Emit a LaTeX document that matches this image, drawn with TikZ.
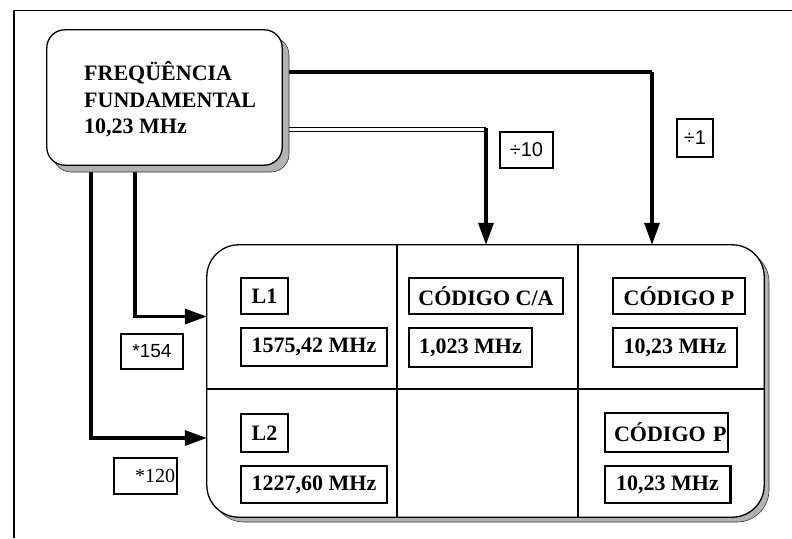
\documentclass[tikz,border=0pt]{standalone}
\usepackage{fontspec}
\setmainfont{Liberation Serif}
\setsansfont{Liberation Sans}
\usetikzlibrary{arrows.meta}
\begin{document}
\begin{tikzpicture}[x=1pt,y=-1pt,
  thickline/.style={line width=3.3pt},
  arr/.style={thickline,-{Triangle[length=22pt,width=15pt]}},
  cellbox/.style={draw,line width=1.3pt,font=\fontsize{22}{26}\selectfont\bfseries,inner sep=0pt},
  factor/.style={draw,line width=1.2pt,font=\sffamily\fontsize{20}{22}\selectfont,inner sep=0pt},
  shadowfill/.style={fill=gray!60,draw=gray!40!black,line width=0.6pt},
  bigtext/.style={font=\fontsize{22}{26}\selectfont\bfseries,inner sep=0pt,anchor=base west},
]
\useasboundingbox (0,0) rectangle (792,538);
% frame
\draw[line width=1.5pt] (14,538) -- (14,10.5) -- (792,10.5);

% helper coordinates
\coordinate (xP) at (652,0);
\coordinate (yP) at (0,72);
\coordinate (yCA) at (0,129.5);
\coordinate (dj) at (486,129.5);
\coordinate (x154) at (135,0);
\coordinate (y154) at (0,316.5);
\coordinate (x120) at (91,0);
\coordinate (y120) at (0,438);

% boxes (positions used by connectors)
\node[minimum width=235pt,minimum height=135pt,inner sep=0pt] (fund) at (164.5,97.5) {};
\node[minimum width=557pt,minimum height=272pt,inner sep=0pt] (big) at (485.5,381) {};

% connectors
\draw[thickline] (fund.east |- yP) -| (xP |- yP);
\draw[arr] (xP |- yP) -- (big.north -| xP);
\draw[double,double distance=2.4pt,line width=1.2pt] (fund.east |- yCA) -- (dj);
\draw[arr] ([yshift=1.5pt]dj) -- (big.north -| dj);
\draw[arr] (fund.south -| x154) |- (big.west |- y154);
\draw[arr] (fund.south -| x120) |- (big.west |- y120);

% top box with shadow
\fill[shadowfill,rounded corners=18pt] (53,37) rectangle (289,172);
\draw[line width=1.3pt,fill=white,rounded corners=18pt] (fund.north west) rectangle (fund.south east);
\node[bigtext] (ft1) at (84,80) {FREQÜÊNCIA};
\node[bigtext] (ft2) at (84,107) {FUNDAMENTAL};
\node[bigtext] (ft3) at (84,133) {10,23 MHz};

% big box with shadow
\fill[shadowfill,rounded corners=32pt] (212,250) rectangle (769,522);
\draw[line width=1.3pt,fill=white,rounded corners=32pt] (big.north west) rectangle (big.south east);
\coordinate (xg1) at (397,0);
\coordinate (xg2) at (578,0);
\coordinate (yg) at (0,389);
\draw[line width=1.2pt] (big.north -| xg1) -- (big.south -| xg1);
\draw[line width=1.2pt] (big.north -| xg2) -- (big.south -| xg2);
\draw[line width=1.2pt] (big.west |- yg) -- (big.east |- yg);

% cells
\node[cellbox,minimum width=47pt,minimum height=36pt] (l1) at (264.5,296) {L1};
\node[cellbox,minimum width=146pt,minimum height=38pt] (f1) at (314,347) {1575,42 MHz};
\node[cellbox,minimum width=47pt,minimum height=38pt] (l2) at (264.5,433) {L2};
\node[cellbox,minimum width=146pt,minimum height=37pt] (f2) at (314,484.5) {1227,60 MHz};
\node[cellbox,minimum width=154pt,minimum height=36pt] (cca) at (486,296) {CÓDIGO C/A};
\node[cellbox,minimum width=123pt,minimum height=39pt] (fca) at (470.5,347.5) {1,023 MHz};
\node[cellbox,minimum width=132pt,minimum height=36pt] (cp1) at (679,296) {CÓDIGO P};
\node[cellbox,minimum width=124pt,minimum height=39pt] (fp1) at (675,347.5) {10,23 MHz};
\node[cellbox,minimum height=39pt,text width=120pt,align=right,inner xsep=1.5pt] (cp2) at (666.5,432.5) {CÓDIGO P};
\node[cellbox,minimum width=125pt,minimum height=37pt] (fp2) at (667.5,484.5) {10,23 MHz};
\draw[line width=2.6pt] (fp2.north east) -- (fp2.south east);

% factor labels
\node[factor,minimum width=53pt,minimum height=36pt] (d10) at (526.5,150) {÷10};
\node[factor,line width=2.2pt,minimum width=36pt,minimum height=38pt] (d1) at (695,138) {÷1};
\node[factor,font=\sffamily\fontsize{19}{22}\selectfont,minimum width=62pt,minimum height=35pt] (m154) at (152,351.5) {*154};
\node[factor,font=\fontsize{20}{24}\selectfont,minimum height=36pt,text width=59pt,align=right,inner xsep=2pt] (m120) at (145.5,476) {*120};
\end{tikzpicture}
\end{document}
